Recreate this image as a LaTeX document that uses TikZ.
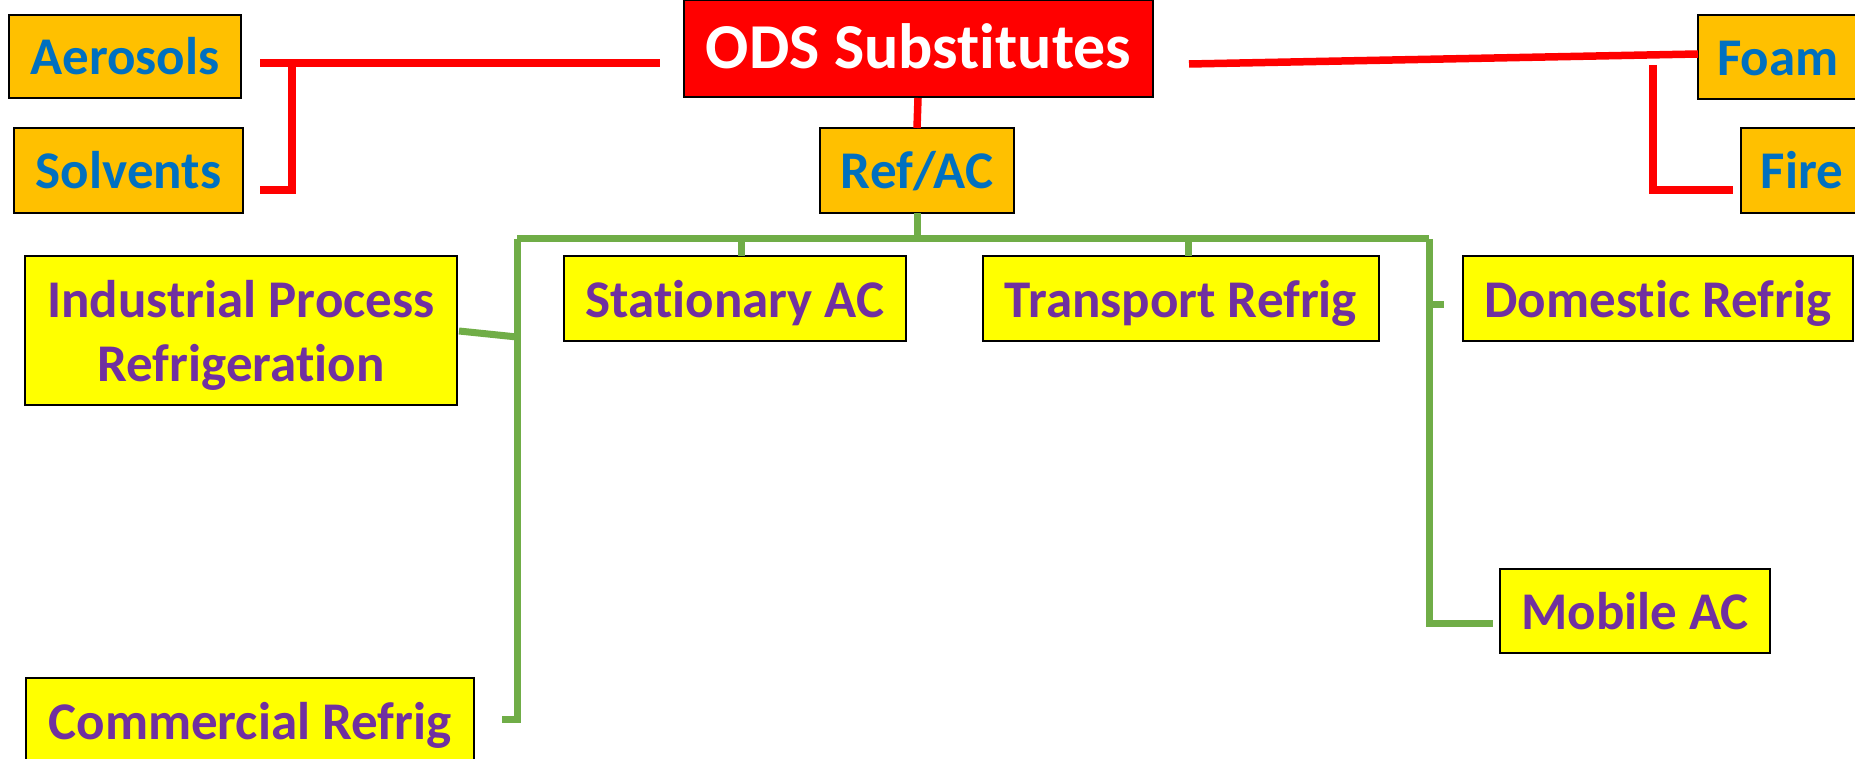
\documentclass[tikz,border=0pt]{standalone}
\usepackage{fontspec}
\setmainfont{Carlito}[Ligatures={NoCommon}]
\definecolor{boxorange}{HTML}{FFC000}
\definecolor{txtblue}{HTML}{0070C0}
\definecolor{boxyellow}{HTML}{FFFF00}
\definecolor{txtpurple}{HTML}{7030A0}
\definecolor{linered}{HTML}{FF0000}
\definecolor{linegreen}{HTML}{70AD47}
\tikzset{
  basebox/.style={draw=black, line width=2.5pt, inner sep=0pt,
    text height=37pt, text depth=0pt,
    font=\fontsize{53}{64}\selectfont\bfseries},
  topbox/.style={basebox, fill=linered, text=white, text height=41pt,
    font=\fontsize{64}{70}\selectfont\bfseries},
  sectorbox/.style={basebox, fill=boxorange, text=txtblue},
  subbox/.style={basebox, fill=boxyellow, text=txtpurple},
  twoline/.style={text depth=64pt},
  redline/.style={draw=linered, line width=7.5pt},
  greenline/.style={draw=linegreen, line width=7pt}
}
\begin{document}
\begin{tikzpicture}[x=1pt,y=-1pt]
\useasboundingbox (0,0) rectangle (1855,759);
% nodes
\node[topbox, minimum width=469pt, minimum height=97pt] (ods) at (918.5,48.5) {ODS Substitutes};
\node[sectorbox, minimum width=232pt, minimum height=83pt] (aero) at (125,56.5) {Aerosols};
\node[sectorbox, minimum width=229pt, minimum height=85pt] (solv) at (128.5,170.5) {Solvents};
\node[sectorbox, minimum width=194pt, minimum height=85pt] (refac) at (917,170.5) {Ref/AC};
\node[sectorbox, minimum width=160pt, minimum height=84pt] (foam) at (1778,57) {Foam};
\node[sectorbox, minimum width=122pt, minimum height=85pt] (fire) at (1802,170.5) {Fire};
\node[subbox, twoline, minimum width=432pt, minimum height=149pt] (indus) at (241,330.5)
  {\begin{tabular}[t]{@{}c@{}}Industrial Process\\Refrigeration\end{tabular}};
\node[subbox, minimum width=342pt, minimum height=85pt] (stat) at (735,298.5) {Stationary AC};
\node[subbox, minimum width=396pt, minimum height=85pt] (trans) at (1181,298.5) {Transport Refrig};
\node[subbox, minimum width=390pt, minimum height=85pt] (dom) at (1658,298.5) {Domestic Refrig};
\node[subbox, minimum width=270pt, minimum height=84pt] (mob) at (1635,611) {Mobile AC};
\node[subbox, minimum width=448pt, minimum height=85pt] (comm) at (250,720.5) {Commercial Refrig};
% junction coordinates
\coordinate (aeroend) at (260,63);
\coordinate (odsleft) at (660,63);
\coordinate (lj) at (292,63);
\coordinate (lb) at (292,190);
\coordinate (solvend) at (260,190);
\coordinate (odsright) at (1189,64);
\coordinate (foamin) at (1698,54);
\coordinate (rj) at (1653,65);
\coordinate (rb) at (1653,190);
\coordinate (firein) at (1733,190);
\coordinate (odsbot) at (918,98);
\coordinate (reftop) at (917,128);
\coordinate (refbot) at (917,213);
\coordinate (gmid) at (917,239);
\coordinate (gl) at (517,239);
\coordinate (gr) at (1429,239);
\coordinate (statj) at (741,239);
\coordinate (statin) at (741,256);
\coordinate (transj) at (1188,239);
\coordinate (transin) at (1188,256);
\coordinate (glb) at (517,719);
\coordinate (commend) at (502,719);
\coordinate (indusend) at (459,331);
\coordinate (indusj) at (517,337);
\coordinate (grb) at (1429,623);
\coordinate (mobend) at (1493,623);
\coordinate (domj) at (1429,305);
\coordinate (domend) at (1444,305);
% red connectors
\draw[redline] (aeroend) -- (odsleft);
\draw[redline] (lj) -- (lb) -- (solvend);
\draw[redline] (odsright) -- (foamin);
\draw[redline] (rj) -- (rb) -- (firein);
\draw[redline] (odsbot) -- (reftop);
% green connectors
\draw[greenline] (refbot) -- (gmid);
\draw[greenline] (gl) -- (gr);
\draw[greenline] (statj) -- (statin);
\draw[greenline] (transj) -- (transin);
\draw[greenline] (gl) -- (glb) -- (commend);
\draw[greenline] (indusend) -- (indusj);
\draw[greenline] (gr) -- (grb) -- (mobend);
\draw[greenline] (domj) -- (domend);
\end{tikzpicture}
\end{document}
